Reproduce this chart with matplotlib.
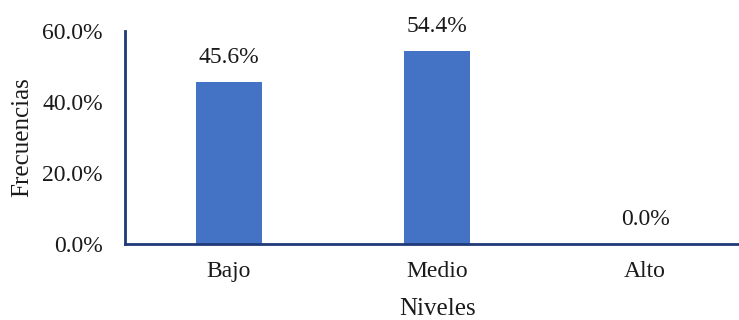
import matplotlib
matplotlib.use("Agg")
import matplotlib.pyplot as plt
from matplotlib.ticker import FuncFormatter

categories = ["Bajo", "Medio", "Alto"]
values = [45.6, 54.4, 0.0]
y_ticks = [0, 20, 40, 60]

plt.rcParams["font.family"] = ["Liberation Serif", "DejaVu Serif"]

W, H = 739, 320
fig = plt.figure(figsize=(W / 100, H / 100), dpi=100)
# axes spans x 125..749 px, y 31..244 px
left, right, top, bottom = 125, 749, 31, 244
ax = fig.add_axes([left / W, 1 - bottom / H, (right - left) / W, (bottom - top) / H])

x = range(len(categories))
bars = ax.bar(x, values, width=0.32, color="#4472C4", zorder=2)
for xi, v in zip(x, values):
    ax.annotate(f"{v:.1f}%", (xi, v), xytext=(0, 10), textcoords="offset points",
                ha="center", va="bottom", fontsize=17, color="#1a1a1a")

ax.set_xlim(-0.5, 2.5)
ax.set_ylim(0, 60)
ax.set_yticks(y_ticks)
ax.yaxis.set_major_formatter(FuncFormatter(lambda v, p: f"{v:.1f}%"))
ax.set_xticks(list(x))
ax.set_xticklabels(categories)
ax.tick_params(axis="both", length=0, labelsize=17, colors="#1a1a1a")
ax.tick_params(axis="y", pad=16)
ax.tick_params(axis="x", pad=12)

for s in ["top", "right"]:
    ax.spines[s].set_visible(False)
for s in ["left", "bottom"]:
    ax.spines[s].set_color("#1F3A78")
    ax.spines[s].set_linewidth(2)

ax.set_ylabel("Frecuencias", fontsize=18, color="#1a1a1a", va="center")
ax.yaxis.set_label_coords(-(125 - 22) / (right - left), 0.5)
ax.set_xlabel("Niveles", fontsize=18, color="#1a1a1a", va="center")
ax.xaxis.set_label_coords((438 - left) / (right - left), -(309 - bottom) / (bottom - top))

fig.savefig("out.png", dpi=100)
